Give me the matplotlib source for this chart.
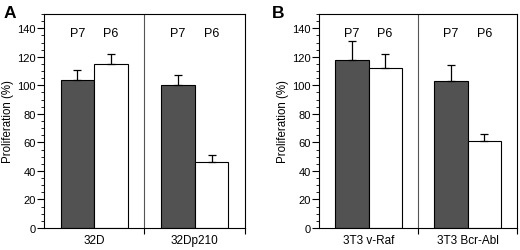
import matplotlib.pyplot as plt
from matplotlib.ticker import MultipleLocator

plt.rcParams['font.family'] = ['Liberation Sans', 'DejaVu Sans']

# panel A
groups_a = ['32D', '32Dp210']
p7_a = [104, 100]
p7_err_a = [7, 7]
p6_a = [115, 46]
p6_err_a = [7, 5]

# panel B
groups_b = ['3T3 v-Raf', '3T3 Bcr-Abl']
p7_b = [118, 103]
p7_err_b = [13, 11]
p6_b = [112, 61]
p6_err_b = [10, 5]

series = ['P7', 'P6']
dark = '#525252'

fig = plt.figure(figsize=(5.2, 2.51), dpi=100)
ax_a = fig.add_axes([0.0846, 0.0876, 0.3865, 0.8526])
ax_b = fig.add_axes([0.6135, 0.0876, 0.381, 0.8526])


def panel(ax, groups, p7, e7, p6, e6, letter, lx):
    w = 0.335
    x = range(len(groups))
    ax.bar([i - w / 2 for i in x], p7, w, color=dark, edgecolor='black', linewidth=0.8,
           yerr=[[0] * len(e7), e7], capsize=3.2, error_kw=dict(elinewidth=0.9, capthick=0.9))
    ax.bar([i + w / 2 for i in x], p6, w, color='white', edgecolor='black', linewidth=0.8,
           yerr=[[0] * len(e6), e6], capsize=3.2, error_kw=dict(elinewidth=0.9, capthick=0.9))
    for i in x:
        ax.text(i - w / 2, 137, series[0], ha='center', va='center', fontsize=9)
        ax.text(i + w / 2, 137, series[1], ha='center', va='center', fontsize=9)
    ax.axvline(0.5, color='#555555', linewidth=0.8)
    ax.set_xlim(-0.5, 1.5)
    ax.set_ylim(0, 150)
    ax.yaxis.set_minor_locator(MultipleLocator(5))
    ax.set_yticks(range(0, 141, 20))
    ax.tick_params(axis='y', which='major', length=5, width=0.8, labelsize=8, pad=1)
    ax.tick_params(axis='y', which='minor', length=2.5, width=0.6)
    ax.set_xticks([0.5, 1.5])
    ax.set_xticklabels([])
    ax.set_xticks([0, 1], minor=True)
    ax.set_xticklabels(groups, minor=True)
    ax.tick_params(axis='x', which='major', length=4.5, width=0.8)
    ax.tick_params(axis='x', which='minor', length=0, labelsize=8.5, pad=4)
    ax.set_ylabel('Proliferation (%)', fontsize=8.3, labelpad=2)
    for s in ax.spines.values():
        s.set_linewidth(0.8)
    fig.text(lx, 0.945, letter, fontsize=12.5, fontweight='bold', ha='left', va='center')


panel(ax_a, groups_a, p7_a, p7_err_a, p6_a, p6_err_a, 'A', 0.006)
panel(ax_b, groups_b, p7_b, p7_err_b, p6_b, p6_err_b, 'B', 0.523)

fig.savefig('out.png', dpi=100)
